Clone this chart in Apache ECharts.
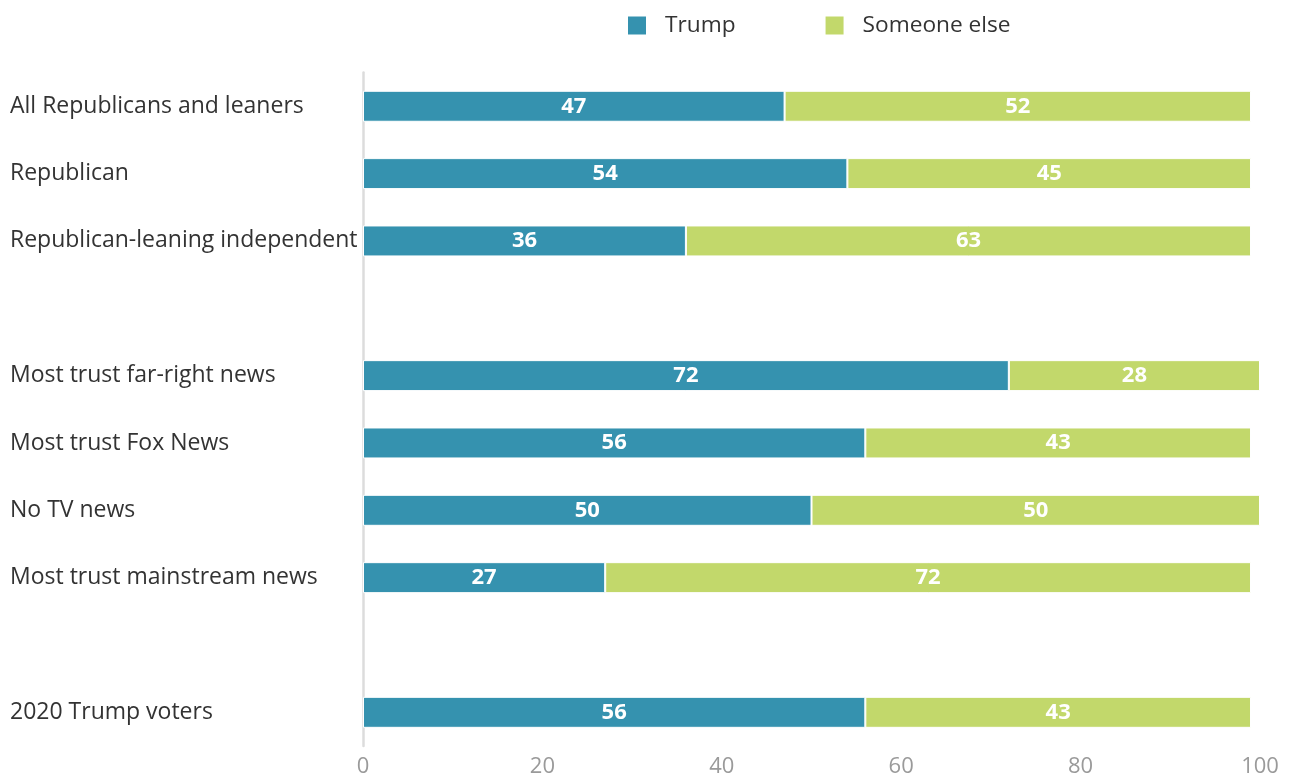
<!DOCTYPE html>
<html>
<head>
<meta charset="utf-8">
<script src="https://cdn.jsdelivr.net/npm/echarts@6/dist/echarts.min.js"></script>
<style>
  html, body { margin: 0; padding: 0; background: #fff; }
  #chart { width: 1294px; height: 778px; }
</style>
</head>
<body>
<div id="chart"></div>
<script>
// Rows of the chart; empty strings leave a spacer between groups
const categories = [
  'All Republicans and leaners',
  'Republican',
  'Republican-leaning independent',
  '',
  'Most trust far-right news',
  'Most trust Fox News',
  'No TV news',
  'Most trust mainstream news',
  '',
  '2020 Trump voters'
];
const trumpValues = [47, 54, 36, '-', 72, 56, 50, 27, '-', 56];
const someoneElseValues = [52, 45, 63, '-', 28, 43, 50, 72, '-', 43];
const xTicks = [0, 20, 40, 60, 80, 100];

const FONT = '"Open Sans", "Noto Sans", sans-serif';
const chart = echarts.init(document.getElementById('chart'), null, { renderer: 'canvas' });

const labelStyle = {
  show: true,
  position: 'inside',
  color: '#fff',
  fontFamily: FONT,
  fontWeight: 'bold',
  fontSize: 22
};

chart.setOption({
  animation: false,
  textStyle: { fontFamily: FONT },
  legend: {
    top: 14,
    left: 626,
    padding: 0,
    itemWidth: 20,
    itemHeight: 20,
    itemGap: 88,
    icon: 'rect',
    textStyle: { fontFamily: FONT, fontSize: 22.7, color: '#333', padding: [3, 0, 0, 13] },
    data: ['Trump', 'Someone else']
  },
  grid: { left: 363, right: 34, top: 72.6, bottom: 32, containLabel: false },
  xAxis: {
    type: 'value',
    min: 0,
    max: 100,
    interval: 20,
    axisLine: { show: false },
    axisTick: { show: false },
    splitLine: { show: false },
    axisLabel: {
      color: '#9a9a9a',
      fontSize: 22,
      fontFamily: FONT,
      margin: 10,
      formatter: v => xTicks.includes(v) ? String(v) : ''
    }
  },
  yAxis: {
    type: 'category',
    inverse: true,
    data: categories,
    axisLine: { show: true, lineStyle: { color: '#dcdcdc', width: 2.5 } },
    axisTick: { show: false },
    axisLabel: {
      align: 'left',
      margin: 353,
      color: '#333',
      fontSize: 23,
      fontFamily: FONT,
      padding: [5, 0, 0, 0]
    }
  },
  series: [
    {
      name: 'Trump',
      type: 'bar',
      stack: 'total',
      barWidth: '46%',
      itemStyle: { color: '#3592af', borderColor: '#fff', borderWidth: 1 },
      label: labelStyle,
      data: trumpValues
    },
    {
      name: 'Someone else',
      type: 'bar',
      stack: 'total',
      barWidth: '46%',
      itemStyle: { color: '#c2d86b', borderColor: '#fff', borderWidth: 1 },
      label: labelStyle,
      data: someoneElseValues
    }
  ]
});
</script>
</body>
</html>
